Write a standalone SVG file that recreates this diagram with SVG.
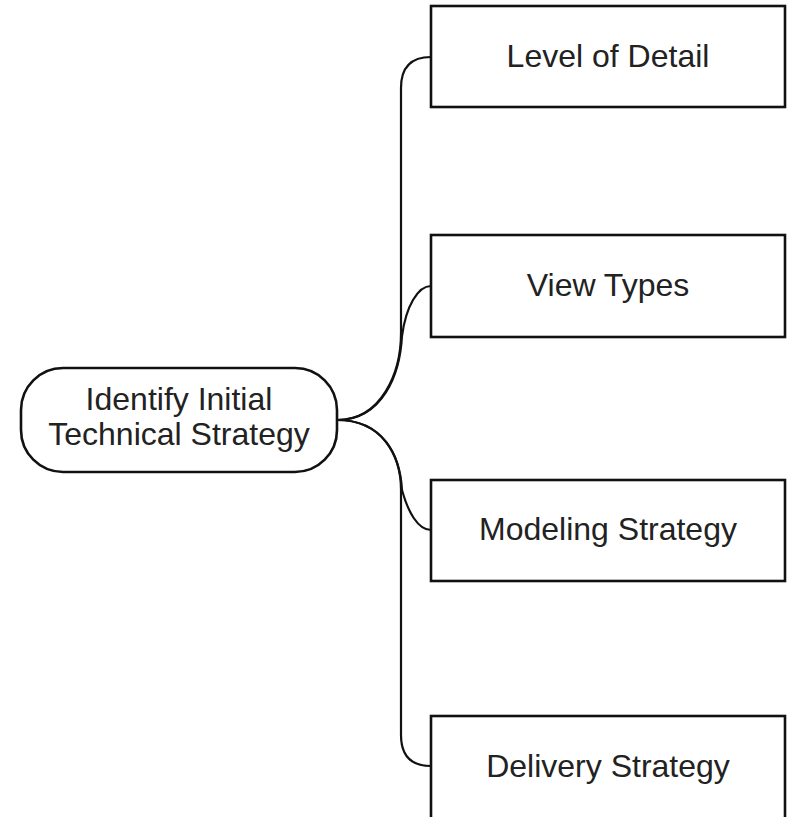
<svg xmlns="http://www.w3.org/2000/svg" width="789" height="817" viewBox="0 0 789 817">
<style>
.box{fill:#fff;stroke:#111;stroke-width:2.6}
.lbl{font-family:"Liberation Sans",Arial,sans-serif;font-size:32px;fill:#222;text-anchor:middle}
.con{fill:none;stroke:#111;stroke-width:2.2}
</style>
<rect width="789" height="817" fill="#fff"/>
<g id="connectors">
<path class="con" d="M337,420 C382,420 401,372 401,333 L401,88 C401,68 411,57 431,57"/>
<path class="con" d="M337,420 C383,420 400,374 402,336 C406,306 418,286 431,286"/>
<path class="con" d="M337,420 C383,420 401,456 401,490 L401,735 C401,755 411,766 431,766"/>
<path class="con" d="M337,420 C383,420 400,455 402,490 C408,512 418,530 431,530"/>
</g>
<g id="root">
<rect class="box" x="21" y="368" width="316" height="104" rx="42" ry="42"/>
<text class="lbl" x="179" y="410">Identify Initial</text>
<text class="lbl" x="179" y="445">Technical Strategy</text>
</g>
<g id="level-of-detail">
<rect class="box" x="431" y="6" width="354" height="101"/>
<text class="lbl" x="608" y="67">Level of Detail</text>
</g>
<g id="view-types">
<rect class="box" x="431" y="235" width="354" height="102"/>
<text class="lbl" x="608" y="296">View Types</text>
</g>
<g id="modeling-strategy">
<rect class="box" x="431" y="480" width="354" height="101"/>
<text class="lbl" x="608" y="540">Modeling Strategy</text>
</g>
<g id="delivery-strategy">
<rect class="box" x="431" y="716" width="354" height="120"/>
<text class="lbl" x="608" y="777">Delivery Strategy</text>
</g>
</svg>
